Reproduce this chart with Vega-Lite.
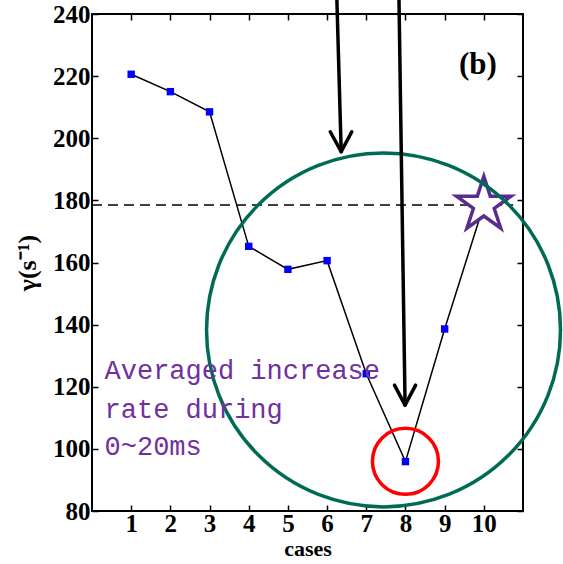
{
  "$schema": "https://vega.github.io/schema/vega-lite/v6.json",
  "width": 431,
  "height": 497,
  "autosize": {"type": "none"},
  "padding": {"left": 92, "top": 14, "right": 40, "bottom": 53},
  "background": "white",
  "config": {
    "view": {"stroke": "black", "strokeWidth": 2},
    "axis": {"labelFont": "Liberation Serif", "labelFontWeight": "bold", "labelFontSize": 25, "labelColor": "black", "titleFont": "Liberation Serif", "titleFontWeight": "bold", "titleColor": "black", "grid": false, "domain": false, "tickColor": "black", "tickWidth": 1.5, "tickSize": -6}
  },
  "datasets": {
    "series": [
      {"case": 1, "gamma": 220.6},
      {"case": 2, "gamma": 215.0},
      {"case": 3, "gamma": 208.5},
      {"case": 4, "gamma": 165.2},
      {"case": 5, "gamma": 157.8},
      {"case": 6, "gamma": 160.6},
      {"case": 7, "gamma": 124.2},
      {"case": 8, "gamma": 95.9},
      {"case": 9, "gamma": 138.6},
      {"case": 10, "gamma": 178.5}
    ],
    "arrows": [
      {"x": 6.25, "y": 244.5, "x2": 6.36, "y2": 195.7},
      {"x": 6.08, "y": 202.1, "x2": 6.36, "y2": 195.7},
      {"x": 6.63, "y": 202.1, "x2": 6.36, "y2": 195.7},
      {"x": 7.835, "y": 244.5, "x2": 7.99, "y2": 114.1},
      {"x": 7.72, "y": 120.5, "x2": 7.99, "y2": 114.1},
      {"x": 8.26, "y": 120.5, "x2": 7.99, "y2": 114.1}
    ],
    "notes": [
      {"x": 0.32, "y": 122.5, "t": "Averaged increase"},
      {"x": 0.32, "y": 109.9, "t": "rate during"},
      {"x": 0.32, "y": 98.0, "t": "0~20ms"}
    ]
  },
  "layer": [
    {
      "data": {"name": "series"},
      "mark": {"type": "line", "color": "black", "strokeWidth": 1.5},
      "encoding": {
        "x": {"field": "case", "type": "quantitative", "scale": {"domain": [0, 11], "nice": false, "zero": false},
          "axis": {"orient": "bottom", "values": [1,2,3,4,5,6,7,8,9,10], "title": "cases", "titleFontSize": 22, "labelPadding": 6, "titlePadding": 2}},
        "y": {"field": "gamma", "type": "quantitative", "scale": {"domain": [80, 240], "nice": false, "zero": false},
          "axis": {"orient": "left", "values": [80,100,120,140,160,180,200,220,240], "title": "γ(s⁻¹)", "titleFontSize": 26, "labelPadding": 8, "titlePadding": 12}}
      }
    },
    {
      "data": {"values": [{"x": 0, "x2": 10.75, "y": 178.5}]},
      "mark": {"type": "rule", "color": "black", "strokeWidth": 1.5, "strokeDash": [10, 6]},
      "encoding": {
        "x": {"field": "x", "type": "quantitative", "axis": {"orient": "top", "values": [1,2,3,4,5,6,7,8,9,10], "labels": false, "title": null}},
        "x2": {"field": "x2"},
        "y": {"field": "y", "type": "quantitative", "axis": {"orient": "right", "values": [80,100,120,140,160,180,200,220,240], "labels": false, "title": null}}
      }
    },
    {
      "data": {"name": "series"},
      "transform": [{"filter": "datum.case < 10"}],
      "mark": {"type": "point", "shape": "square", "filled": true, "color": "#0000ff", "size": 55, "opacity": 1},
      "encoding": {
        "x": {"field": "case", "type": "quantitative", "axis": null},
        "y": {"field": "gamma", "type": "quantitative", "axis": null}
      }
    },
    {
      "data": {"name": "series"},
      "transform": [{"filter": "datum.case == 10"}],
      "mark": {"type": "point", "shape": "M0,-1L0.2245,-0.309L0.951,-0.309L0.363,0.118L0.588,0.809L0,0.382L-0.588,0.809L-0.363,0.118L-0.951,-0.309L-0.2245,-0.309Z", "filled": false, "fill": "white", "fillOpacity": 1, "stroke": "#5a2d8c", "strokeWidth": 3.5, "size": 3300, "opacity": 1},
      "encoding": {
        "x": {"field": "case", "type": "quantitative", "axis": null},
        "y": {"field": "gamma", "type": "quantitative", "axis": null}
      }
    },
    {
      "data": {"values": [{"x": 7.44, "y": 138.3, "s": 125300, "c": "green"}, {"x": 8, "y": 96, "s": 4360, "c": "red"}]},
      "mark": {"type": "point", "shape": "circle", "filled": false, "strokeWidth": 3.5, "opacity": 1, "clip": false},
      "encoding": {
        "x": {"field": "x", "type": "quantitative", "axis": null},
        "y": {"field": "y", "type": "quantitative", "axis": null},
        "size": {"field": "s", "type": "quantitative", "scale": null, "legend": null},
        "stroke": {"field": "c", "type": "nominal", "scale": {"domain": ["green", "red"], "range": ["#006b54", "#ff0000"]}, "legend": null}
      }
    },
    {
      "data": {"name": "arrows"},
      "mark": {"type": "rule", "color": "black", "strokeWidth": 3.5, "strokeCap": "round", "clip": false},
      "encoding": {
        "x": {"field": "x", "type": "quantitative", "axis": null},
        "x2": {"field": "x2"},
        "y": {"field": "y", "type": "quantitative", "axis": null},
        "y2": {"field": "y2"}
      }
    },
    {
      "data": {"values": [{"x": 9.85, "y": 223.6, "t": "(b)"}]},
      "mark": {"type": "text", "font": "Liberation Serif", "fontWeight": "bold", "fontSize": 31, "align": "center", "baseline": "middle", "color": "black"},
      "encoding": {
        "x": {"field": "x", "type": "quantitative", "axis": null},
        "y": {"field": "y", "type": "quantitative", "axis": null},
        "text": {"field": "t"}
      }
    },
    {
      "data": {"name": "notes"},
      "mark": {"type": "text", "font": "Liberation Mono", "fontSize": 27, "align": "left", "baseline": "alphabetic", "color": "#7030a0"},
      "encoding": {
        "x": {"field": "x", "type": "quantitative", "axis": null},
        "y": {"field": "y", "type": "quantitative", "axis": null},
        "text": {"field": "t"}
      }
    }
  ],
  "resolve": {"axis": {"x": "independent", "y": "independent"}}
}
